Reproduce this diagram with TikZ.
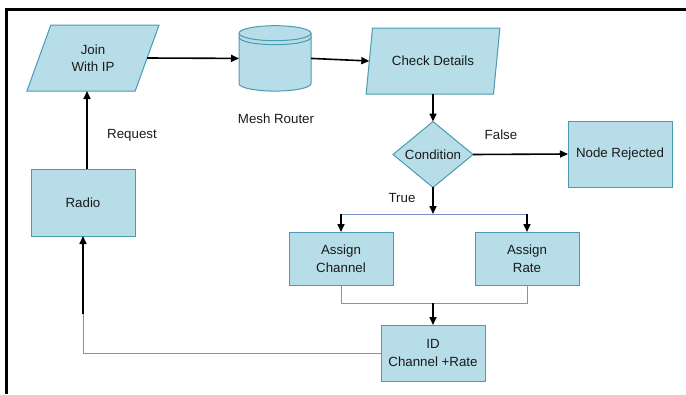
\documentclass[tikz,border=0pt]{standalone}
\usepackage{fontspec}
\setmainfont{Liberation Sans}
\usetikzlibrary{shapes.geometric,arrows.meta}
\definecolor{boxfill}{HTML}{B7DDE8}
\definecolor{boxline}{HTML}{4A9BB1}
\definecolor{wireblue}{HTML}{7895C6}
\definecolor{ink}{HTML}{1A1A1A}
\begin{document}
\begin{tikzpicture}[x=1pt,y=-1pt,
  font=\fontsize{13.3}{17.5}\selectfont,
  box/.style={draw=boxline, fill=boxfill, line width=1pt, align=center,
    inner sep=0pt, outer sep=0pt, text=ink},
  procbox/.style={box, rectangle, minimum width=104pt, minimum height=#1},
  iobox/.style={box, trapezium, trapezium stretches=true,
    trapezium left angle=66, trapezium right angle=114,
    minimum width=133pt, minimum height=66pt},
  decbox/.style={box, diamond, minimum width=80pt, minimum height=57pt},
  flow/.style={line width=1.6pt, -{Triangle[length=8pt,width=7pt]}},
  wire/.style={draw=wireblue, line width=0.9pt},
  lbl/.style={inner sep=0pt, text=ink}]
\useasboundingbox (0,0) rectangle (686,394);

% page frame (open to the right and bottom)
\draw[line width=3pt] (686,9.5) -- (6,9.5) -- (6,394);

% nodes
\node[iobox] (join) at (93,58) {Join\\With IP};
\node[minimum width=72pt, minimum height=66pt, inner sep=0pt, outer sep=0pt] (cyl) at (275,58.4) {};
\node[lbl] (mesh) at (276,119) {Mesh Router};
\node[iobox, minimum width=134pt] (check) at (433,61) {Check Details};
\node[decbox] (cond) at (433,154.5) {Condition};
\node[procbox=66pt] (rej) at (620,154) {Node Rejected};
\node[procbox=53pt] (chan) at (341,258.5) {Assign\\Channel};
\node[procbox=53pt] (rate) at (527,258.5) {Assign\\Rate};
\node[procbox=56pt] (id) at (433,353) {ID\\Channel +Rate};
\node[procbox=67pt] (radio) at (83,202.5) {Radio};

\node[lbl] (lfalse) at (501,135) {False};
\node[lbl] (ltrue) at (402,198) {True};
\node[lbl] (lreq) at (132,135) {Request};

% mesh router drawn as a database cylinder
\begin{scope}[shift={(cyl.center)}]
  \path[draw=boxline, fill=boxfill, line width=1pt]
    (-36,-25.2) -- (-36,25.2) arc (180:0:36 and 7.5) -- (36,-25.2)
    arc (0:-180:36 and 7.5) -- cycle;
  \draw[boxline, line width=1pt] (-36,-25.2) arc (180:0:36 and 7.5);
  \draw[boxline, line width=1pt] (-36,-21.2) arc (180:0:36 and 7.5);
\end{scope}

% junction points
\coordinate (split) at (433,214);
\coordinate (splitL) at (chan.north |- split);
\coordinate (splitR) at (rate.north |- split);
\coordinate (merge) at (433,303);
\coordinate (mergeL) at (chan.south |- merge);
\coordinate (mergeR) at (rate.south |- merge);
\coordinate (back) at (radio.south |- id.west);
\coordinate (backup) at (radio.south |- 0,314);

% connectors
\draw[flow] ([xshift=4pt]radio.north) -- ([xshift=4pt]radio.north |- join.south);
\draw[flow] (join.east) -- (cyl.west);
\draw[flow] (cyl.east) -- (check.west);
\draw[flow] (check.south) -- (cond.north);
\draw[flow] (cond.east) -- (rej.west);
\draw[flow] (cond.south) -- (split);
\draw[wire] (splitL) -- (splitR);
\draw[flow] (splitL) -- (chan.north);
\draw[flow] (splitR) -- (rate.north);
\draw[wire] (chan.south) -- (mergeL) -- (mergeR) -- (rate.south);
\draw[flow] (merge) -- (id.north);
\draw[wire] (id.west) -- (back) -- (backup);
\draw[flow] (backup) -- (radio.south);
\end{tikzpicture}
\end{document}
